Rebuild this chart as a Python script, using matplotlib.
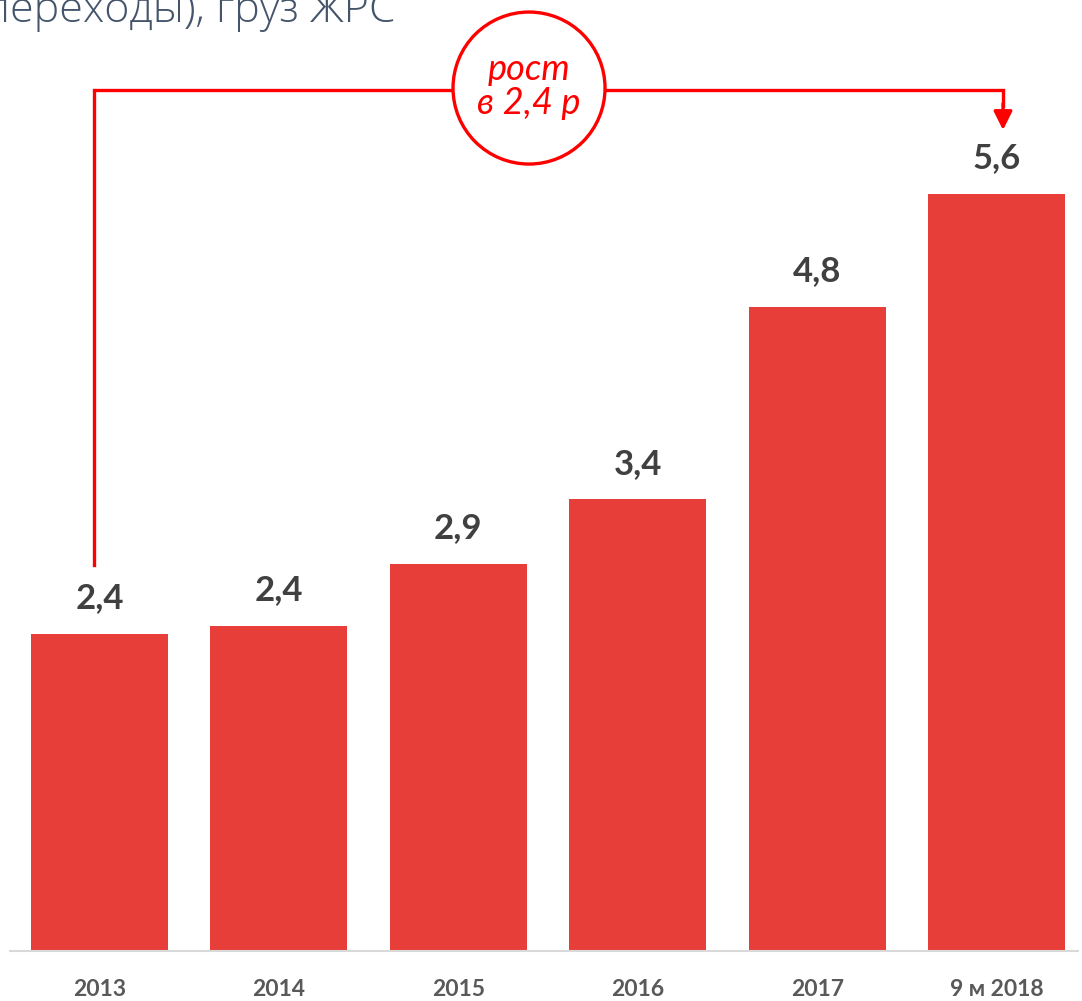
import matplotlib.pyplot as plt
from matplotlib.patches import Ellipse

# --- data ---
years = ['2013', '2014', '2015', '2016', '2017', '9 м 2018']
values = [2.36, 2.42, 2.88, 3.36, 4.79, 5.63]
title = 'переходы), груз ЖРС'
growth = 'рост\nв 2,4 р'

bar_red = '#E83E3A'
line_red = '#FF0000'

fig = plt.figure(figsize=(10.82, 10.01), dpi=100)
ax = fig.add_axes([10 / 1082, 50 / 1001, 1068 / 1082, 951 / 1001])

x = range(len(years))
ax.bar(x, values, width=0.764, color=bar_red, zorder=2)
ax.set_xlim(-0.499, 5.454)
ax.set_ylim(0, 951 / 134.5)

for xi, v in zip(x, values):
    ax.annotate(f'{v:.1f}'.replace('.', ','), (xi, v), xytext=(0, 14),
                textcoords='offset points', ha='center', va='bottom',
                fontsize=25, fontweight='bold', color='#404040', family='Lato')

ax.set_xticks(list(x))
ax.set_xticklabels(years, fontsize=16.5, fontweight='bold', color='#595959', family='Lato')
ax.tick_params(axis='x', length=0, pad=20)
ax.set_yticks([])
for s in ['top', 'right', 'left']:
    ax.spines[s].set_visible(False)
ax.spines['bottom'].set_color('#D9D9D9')
ax.spines['bottom'].set_linewidth(1.5)

# bracket with arrow
y_top = 6.40
ax.plot([-0.031, -0.031, 5.036, 5.036], [2.87, y_top, y_top, 6.28],
        color=line_red, lw=2.4, solid_joinstyle='miter', zorder=3, clip_on=False)
ax.annotate('', xy=(5.036, 6.104), xytext=(5.036, 6.30),
            arrowprops=dict(arrowstyle='-|>', color=line_red, lw=2.4,
                            mutation_scale=28, shrinkA=0, shrinkB=0), zorder=4)

# circle
cx, cy = 2.394, 6.416
ax.add_patch(Ellipse((cx, cy), 152 / 179.4, 152 / 134.5, facecolor='white',
                     edgecolor=line_red, lw=2.4, zorder=5, clip_on=False))
ax.text(cx, cy + 0.01, growth, ha='center', va='center', fontsize=26, style='italic',
        color=line_red, family='Lato', linespacing=1.05, zorder=6)

# title (cut off at the top-left edge, as in the source slide)
fig.text(-16 / 1082, 1 - 22 / 1001, title, ha='left', va='baseline', fontsize=31,
         color='#44546A', family='Open Sans', fontweight='light')

fig.savefig('out.png', dpi=100)
